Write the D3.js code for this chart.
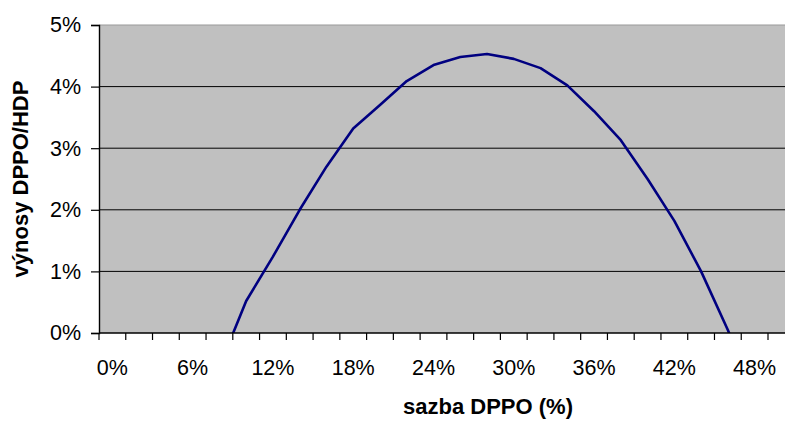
<!DOCTYPE html>
<html>
<head>
<meta charset="utf-8">
<script src="https://cdn.jsdelivr.net/npm/d3@7/dist/d3.min.js"></script>
<style>
  html, body { margin: 0; padding: 0; background: #ffffff; }
  svg { display: block; }
  text { font-family: "Liberation Sans", Arial, sans-serif; fill: #000; }
</style>
</head>
<body>
<svg id="chart" width="785" height="421"></svg>
<script>
// Tax rate categories (DPPO rate) and corresponding revenue as share of GDP
const rates = ["0%","2%","4%","6%","8%","10%","12%","14%","16%","18%","20%","22%","24%",
               "26%","28%","30%","32%","34%","36%","38%","40%","42%","44%","46%","48%","50%"];
const revenue = [null, null, null, null, -0.55, 0.52, 1.24, 2.0, 2.70, 3.32, 3.70, 4.09, 4.35,
                 4.48, 4.53, 4.45, 4.30, 4.02, 3.60, 3.13, 2.50, 1.82, 1.00, 0.05, -1.05, -2.3];
const yTicks = [0, 1, 2, 3, 4, 5];
const xLabelEvery = 3;

const svg = d3.select("#chart");
const margin = { left: 99, top: 25, bottom: 333 };
const bandW = 26.76;
const plotRight = margin.left + rates.length * bandW;

const x = d3.scaleBand().domain(rates).range([margin.left, plotRight]).padding(0);
const y = d3.scaleLinear().domain([0, 5]).range([margin.bottom, margin.top]);

// plot background
svg.append("rect")
  .attr("x", margin.left).attr("y", margin.top)
  .attr("width", plotRight - margin.left).attr("height", margin.bottom - margin.top)
  .attr("fill", "#c0c0c0");

// horizontal gridlines
svg.append("g").selectAll("line")
  .data(yTicks.filter(d => d > 0 && d < 5))
  .join("line")
  .attr("x1", margin.left).attr("x2", plotRight)
  .attr("y1", d => y(d)).attr("y2", d => y(d))
  .attr("stroke", "#000").attr("stroke-width", 1);

// top border
svg.append("line")
  .attr("x1", margin.left).attr("x2", plotRight)
  .attr("y1", y(5)).attr("y2", y(5))
  .attr("stroke", "#9a9a9a").attr("stroke-width", 1.2);

// revenue curve, clipped to the plot area
svg.append("clipPath").attr("id", "plotClip")
  .append("rect")
  .attr("x", margin.left).attr("y", margin.top)
  .attr("width", plotRight - margin.left).attr("height", margin.bottom - margin.top);

const line = d3.line()
  .defined(d => d.v !== null)
  .x(d => x(d.r) + x.bandwidth() / 2)
  .y(d => y(d.v));

svg.append("path")
  .datum(rates.map((r, i) => ({ r, v: revenue[i] })))
  .attr("clip-path", "url(#plotClip)")
  .attr("fill", "none")
  .attr("stroke", "#000080")
  .attr("stroke-width", 2.6)
  .attr("stroke-linejoin", "round")
  .attr("d", line);

// y axis
const yAxis = d3.axisLeft(y).tickValues(yTicks).tickSize(8).tickPadding(10)
  .tickFormat(d => d + "%");
const gy = svg.append("g").attr("transform", `translate(${margin.left},0)`).call(yAxis);
gy.select(".domain").attr("stroke", "#000").attr("stroke-width", 1.4);
gy.selectAll(".tick line").attr("stroke", "#000").attr("stroke-width", 1.2);
gy.selectAll(".tick text").attr("font-size", 21.5).attr("fill", "#000")
  .attr("font-family", "'Liberation Sans', Arial, sans-serif");

// x axis: tick marks between categories, labels centred on every third category
const gx = svg.append("g").attr("transform", `translate(0,${margin.bottom})`);
const boundaries = d3.range(rates.length + 1).map(i => margin.left + i * x.step());
gx.append("line")
  .attr("x1", margin.left).attr("x2", plotRight)
  .attr("y1", 0).attr("y2", 0)
  .attr("stroke", "#000").attr("stroke-width", 1.4);
gx.selectAll("line.tk").data(boundaries).join("line").attr("class", "tk")
  .attr("x1", d => d).attr("x2", d => d)
  .attr("y1", 0).attr("y2", 7)
  .attr("stroke", "#000").attr("stroke-width", 1.2);
gx.selectAll("text").data(rates.filter((r, i) => i % xLabelEvery === 0)).join("text")
  .attr("x", d => x(d) + x.bandwidth() / 2)
  .attr("y", 42)
  .attr("text-anchor", "middle")
  .attr("font-size", 21.5)
  .text(d => d);

// axis titles
svg.append("text")
  .attr("x", 488).attr("y", 414)
  .attr("text-anchor", "middle")
  .attr("font-size", 22).attr("font-weight", "bold")
  .text("sazba DPPO (%)");

svg.append("text")
  .attr("transform", "translate(28,179) rotate(-90)")
  .attr("text-anchor", "middle")
  .attr("font-size", 22).attr("font-weight", "bold")
  .text("výnosy DPPO/HDP");
</script>
</body>
</html>
